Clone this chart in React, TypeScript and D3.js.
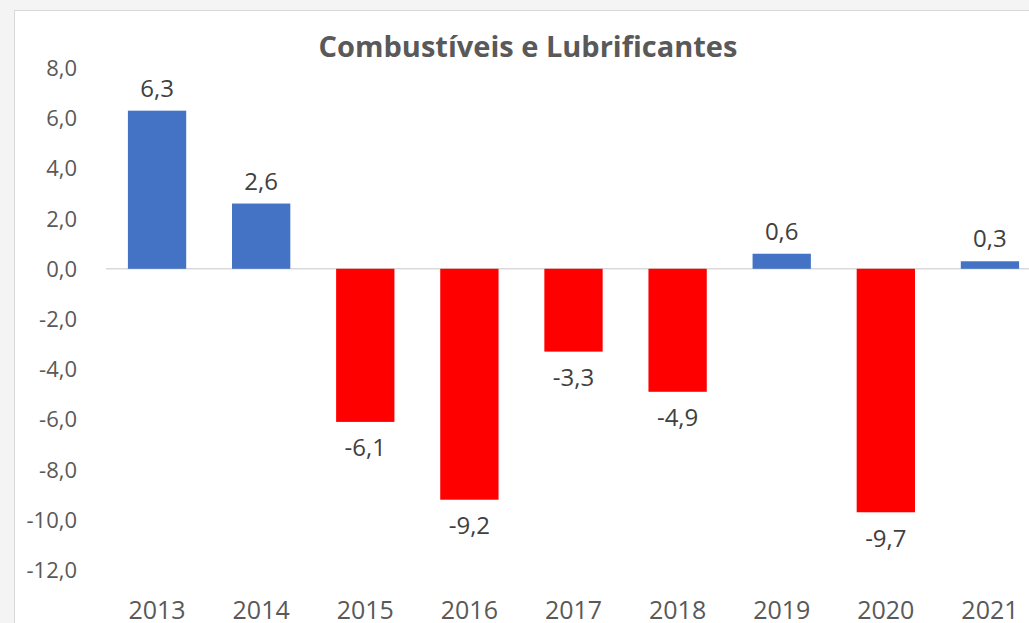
import React from "react";
import * as d3 from "d3";

const categories = ["2013", "2014", "2015", "2016", "2017", "2018", "2019", "2020", "2021"];
const values = [6.3, 2.6, -6.1, -9.2, -3.3, -4.9, 0.6, -9.7, 0.3];
const yTicks = [8, 6, 4, 2, 0, -2, -4, -6, -8, -10, -12];
const title = "Combustíveis e Lubrificantes";

const W = 1029;
const H = 623;
const FONT = "'Open Sans', 'Noto Sans', sans-serif";
const TXT = "#595959";

const fmt = (v: number) => d3.format(".1f")(v).replace(".", ",").replace("−", "-");

export default function App() {
  const x = d3.scaleBand<string>().domain(categories).range([105, 1042]).paddingInner(0.44).paddingOuter(0.22);
  const y = d3.scaleLinear().domain([-12, 8]).range([570, 68]);
  const y0 = y(0);

  return (
    <svg
      width={W}
      height={H}
      style={{ position: "fixed", left: 0, top: 0, display: "block" }}
      fontFamily={FONT}
    >
      <rect x={0} y={0} width={W} height={H} fill="#f4f4f4" />
      <rect x={14.5} y={10.5} width={W + 20} height={H + 20} fill="#ffffff" stroke="#d9d9d9" strokeWidth={1} />
      <text x={528} y={57} textAnchor="middle" fontSize={29} fontWeight="bold" fill={TXT}>
        {title}
      </text>
      {yTicks.map((t) => (
        <text key={t} x={77} y={y(t)} dy="0.36em" textAnchor="end" fontSize={22} fill={TXT}>
          {fmt(t)}
        </text>
      ))}
      <line x1={106} x2={W} y1={y0} y2={y0} stroke="#d9d9d9" strokeWidth={1.5} />
      {categories.map((c, i) => {
        const v = values[i];
        const bx = x(c)!;
        const bw = x.bandwidth();
        const top = Math.min(y(v), y0);
        const h = Math.abs(y(v) - y0);
        const cx = bx + bw / 2;
        return (
          <g key={c}>
            <rect x={bx} y={top} width={bw} height={h} fill={v >= 0 ? "#4472C4" : "#FF0000"} />
            <text
              x={cx}
              y={v >= 0 ? y(v) - 14 : y(v) + 17}
              dy={v >= 0 ? "0" : "0.72em"}
              textAnchor="middle"
              fontSize={24}
              fill="#404040"
            >
              {fmt(v)}
            </text>
            <text x={cx} y={619} textAnchor="middle" fontSize={25} fill={TXT}>
              {c}
            </text>
          </g>
        );
      })}
    </svg>
  );
}
